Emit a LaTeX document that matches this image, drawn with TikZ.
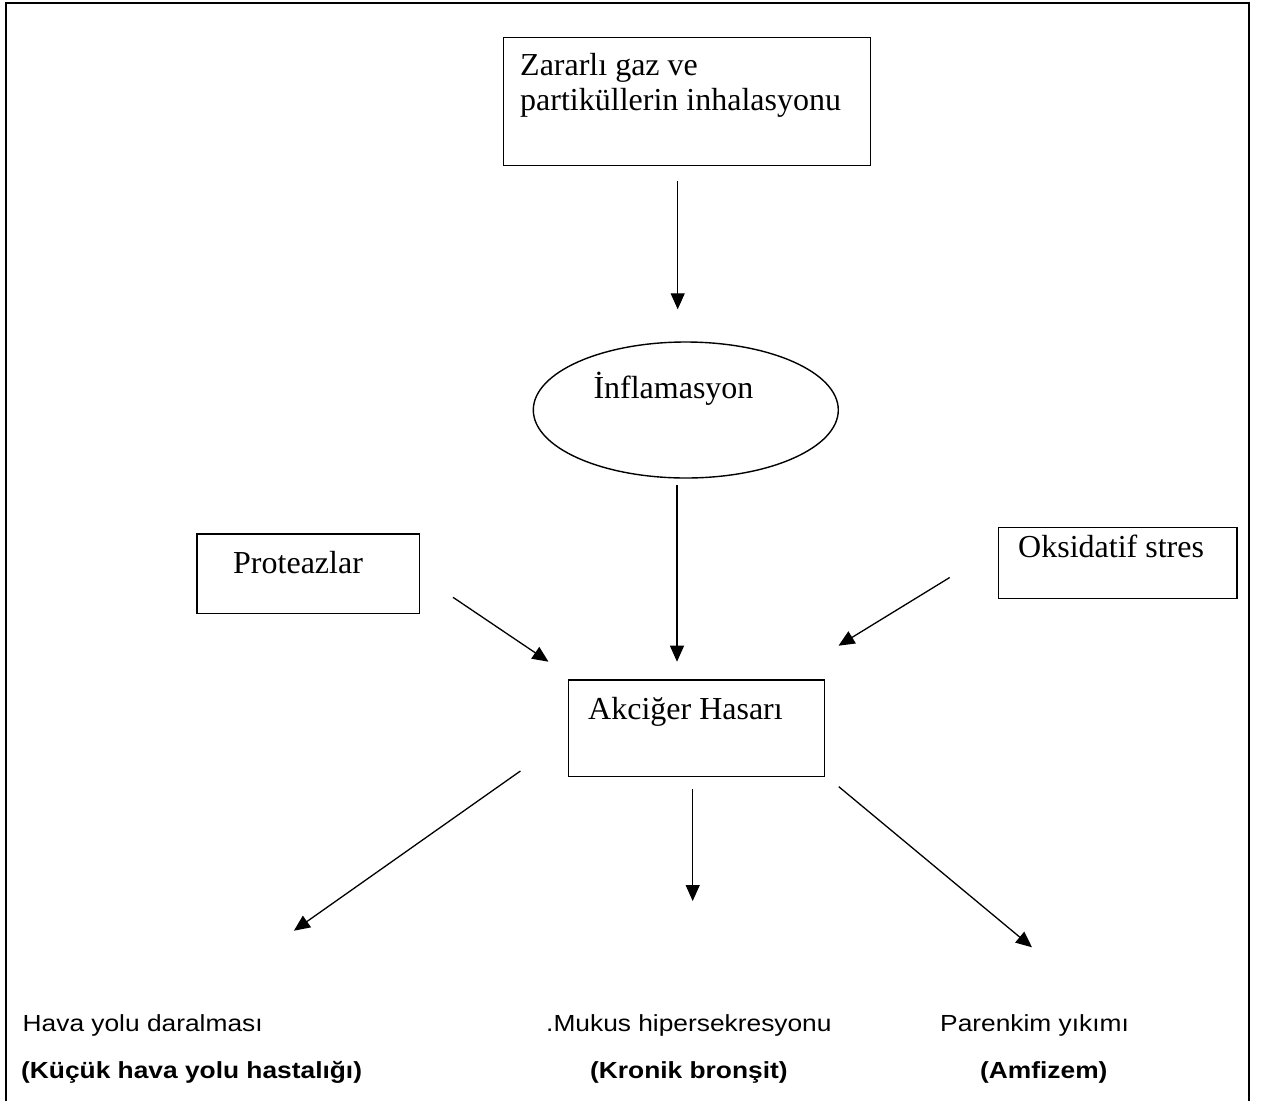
\documentclass[tikz,border=0pt]{standalone}
\usepackage{fontspec}
\setmainfont{Liberation Serif}
\newfontfamily\sansw[FakeStretch=1.13]{Liberation Sans}
\usetikzlibrary{arrows.meta,shapes.geometric}
\begin{document}
\begin{tikzpicture}[x=1pt,y=-1pt,
  box/.style={draw, line width=1.4pt, inner sep=0pt, anchor=north west},
  serif/.style={inner sep=0pt, anchor=base west, font=\fontsize{32}{35}\selectfont, align=left},
  sans/.style={inner sep=0pt, anchor=base west, font=\sansw\fontsize{23.3}{27}\selectfont},
  sansb/.style={sans, font=\sansw\bfseries\fontsize{23.3}{27}\selectfont},
  arr/.style={line width=1.3pt, -{Triangle[length=16pt,width=14pt]}}]
\useasboundingbox (0,0) rectangle (1261,1101);
% outer frame (no bottom edge)
\draw[line width=2pt] (6,1101) -- (6,3.3) -- (1248.5,3.3) -- (1248.5,1101);
% boxes
\node[box, minimum width=367pt, minimum height=128pt] (top) at (503,37) {};
\node[serif] (toptxt) at (520,110.5) {Zararlı gaz ve\\partiküllerin inhalasyonu};
\node[draw, ellipse, line width=1.4pt, inner sep=0pt, minimum width=305pt, minimum height=136pt] (inf) at (685.8,410) {};
\node[serif] (inftxt) at (593.3,398.3) {İnflamasyon};
\node[box, minimum width=222.4pt, minimum height=79.4pt] (prot) at (196.4,533.3) {};
\node[serif] (prottxt) at (233,573.3) {Proteazlar};
\node[box, minimum width=238.9pt, minimum height=71pt] (oks) at (997.5,526.7) {};
\node[serif] (okstxt) at (1018,557.3) {Oksidatif stres};
\node[box, minimum width=256pt, minimum height=96.4pt] (akc) at (567.6,679.3) {};
\node[serif] (akctxt) at (588,719.3) {Akciğer Hasarı};
% bottom texts
\node[sans] (hava) at (22.5,1031.5) {Hava yolu daralması};
\node[sansb] (kucuk) at (21,1078) {(Küçük hava yolu hastalığı)};
\node[sans] (mukus) at (546,1031.5) {.Mukus hipersekresyonu};
\node[sansb] (kronik) at (590,1078) {(Kronik bronşit)};
\node[sans] (paren) at (940,1031.5) {Parenkim yıkımı};
\node[sansb] (amf) at (980,1078) {(Amfizem)};
% arrow end points
\coordinate (a1s) at (677.7,181);   \coordinate (a1e) at (677.7,309.3);
\coordinate (a2s) at (677,485);     \coordinate (a2e) at (677,661.7);
\coordinate (a3s) at (453,597.3);   \coordinate (a3e) at (548.5,661.7);
\coordinate (a4s) at (949.7,577.5); \coordinate (a4e) at (838.5,645.7);
\coordinate (a5s) at (520.4,771);   \coordinate (a5e) at (293.9,930.7);
\coordinate (a6s) at (692.7,789.3); \coordinate (a6e) at (692.7,901);
\coordinate (a7s) at (838.8,786.7); \coordinate (a7e) at (1032,947.3);
\draw[arr] (a1s) -- (a1e);
\draw[arr] (a2s) -- (a2e);
\draw[arr] (a3s) -- (a3e);
\draw[arr] (a4s) -- (a4e);
\draw[arr] (a5s) -- (a5e);
\draw[arr] (a6s) -- (a6e);
\draw[arr] (a7s) -- (a7e);
\end{tikzpicture}
\end{document}
